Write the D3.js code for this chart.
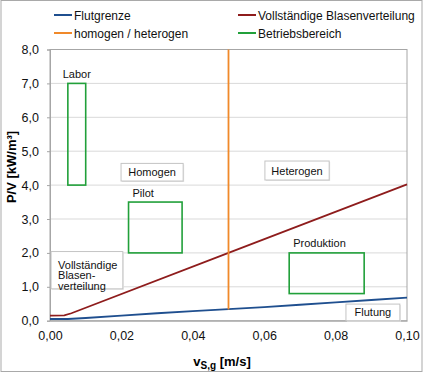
<!DOCTYPE html>
<html lang="de">
  <head>
    <meta charset="UTF-8" />
    <title>Betriebsbereiche</title>
    <script src="https://d3js.org/d3.v7.min.js"></script>
    <style>
      body {
        margin: 0;
        padding: 0;
        background: #fff;
        font-family: "Liberation Sans", Arial, sans-serif;
      }
      svg {
        display: block;
      }
    </style>
  </head>
  <body>
    <svg width="425" height="373"></svg>
    <script>
      // Daten
      const yTicks = [0, 1, 2, 3, 4, 5, 6, 7, 8];
      const xTicks = [0, 0.02, 0.04, 0.06, 0.08, 0.1];

      const flutgrenze = [
        [0, 0.05], [0.005, 0.05], [0.01, 0.08], [0.02, 0.15], [0.03, 0.22],
        [0.04, 0.28], [0.05, 0.34], [0.06, 0.4], [0.07, 0.47], [0.08, 0.54],
        [0.09, 0.61], [0.1, 0.68]
      ];
      const blasenverteilung = [
        [0, 0.15], [0.004, 0.16], [0.006, 0.22], [0.05, 2.0], [0.1, 4.02]
      ];
      const homogenHeterogen = [[0.05, 0.33], [0.05, 8]];

      // Betriebsbereiche: [x0, x1, y0, y1]
      const bereichNamen = ["Labor", "Pilot", "Produktion"];
      const bereiche = [
        [0.005, 0.01, 4.0, 7.0],
        [0.022, 0.037, 2.0, 3.5],
        [0.067, 0.088, 0.8, 2.0]
      ];

      const legendNames = ["Flutgrenze", "Vollständige Blasenverteilung", "homogen / heterogen", "Betriebsbereich"];
      const legendColors = ["#1f4f8f", "#8e1c1c", "#f0892a", "#21a03a"];

      // Textfelder: Zeilen, [x0, x1, y0, y1] in Datenwerten
      const boxTexts = [["Homogen"], ["Heterogen"], ["Vollständige", "Blasen-", "verteilung"], ["Flutung"]];
      const boxRanges = [
        [0.0199, 0.0373, 4.12, 4.64],
        [0.0602, 0.0782, 4.15, 4.71],
        [0.0003, 0.0204, 0.94, 2.04],
        [0.0829, 0.098, 0, 0.49]
      ];

      const svg = d3.select("svg");
      const x = d3.scaleLinear().domain([0, 0.1]).range([50, 407]);
      const y = d3.scaleLinear().domain([0, 8]).range([320.7, 49.5]);
      const fmt = (d, n) => d.toFixed(n).replace(".", ",");

      // äußerer Rahmen
      svg.append("rect")
        .attr("x", 1).attr("y", 0.5).attr("width", 421).attr("height", 371)
        .attr("fill", "none").attr("stroke", "#a9a9a9");

      // Gitterlinien
      svg.append("g")
        .selectAll("line")
        .data(yTicks.slice(1))
        .join("line")
        .attr("x1", x(0)).attr("x2", x(0.1))
        .attr("y1", (d) => y(d)).attr("y2", (d) => y(d))
        .attr("stroke", "#d9d9d9");

      // Plotrahmen
      svg.append("rect")
        .attr("x", x(0)).attr("y", y(8))
        .attr("width", x(0.1) - x(0)).attr("height", y(0) - y(8))
        .attr("fill", "none").attr("stroke", "#a6a6a6");

      // Achsen
      const yAxis = svg.append("g")
        .attr("transform", `translate(${x(0)},0)`)
        .call(d3.axisLeft(y).tickValues(yTicks).tickSize(3).tickPadding(8).tickFormat((d) => fmt(d, 1)));
      const xAxis = svg.append("g")
        .attr("transform", `translate(0,${y(0)})`)
        .call(d3.axisBottom(x).tickValues(xTicks).tickSize(0).tickPadding(10).tickFormat((d) => fmt(d, 2)));
      [yAxis, xAxis].forEach((a) => {
        a.select(".domain").attr("stroke", "#a6a6a6");
        a.selectAll(".tick line").attr("stroke", "#a6a6a6");
        a.selectAll("text")
          .attr("font-family", "Liberation Sans, Arial, sans-serif")
          .attr("font-size", 12.5).attr("fill", "#111");
      });

      // Achsentitel
      svg.append("text")
        .attr("transform", "translate(16,167) rotate(-90)")
        .attr("text-anchor", "middle")
        .attr("font-size", 13).attr("font-weight", "bold")
        .text("P/V [kW/m³]");
      const xt = svg.append("text")
        .attr("x", 222).attr("y", 366)
        .attr("text-anchor", "middle")
        .attr("font-size", 13).attr("font-weight", "bold");
      xt.append("tspan").text("v");
      xt.append("tspan").attr("font-size", 10).attr("dy", 3).text("S,g");
      xt.append("tspan").attr("dy", -3).text(" [m/s]");

      // Linien
      const line = d3.line().x((d) => x(d[0])).y((d) => y(d[1]));
      [flutgrenze, blasenverteilung, homogenHeterogen].forEach((s, i) => {
        svg.append("path")
          .datum(s)
          .attr("d", line)
          .attr("fill", "none")
          .attr("stroke", legendColors[i])
          .attr("stroke-width", 1.8);
      });

      // Betriebsbereiche
      svg.append("g")
        .selectAll("rect")
        .data(bereiche)
        .join("rect")
        .attr("x", (d) => x(d[0]))
        .attr("y", (d) => y(d[3]))
        .attr("width", (d) => x(d[1]) - x(d[0]))
        .attr("height", (d) => y(d[2]) - y(d[3]))
        .attr("fill", "none")
        .attr("stroke", legendColors[3])
        .attr("stroke-width", 1.6);

      svg.append("g")
        .selectAll("text")
        .data(bereiche)
        .join("text")
        .attr("x", (d, i) => (i === 0 ? (x(d[0]) + x(d[1])) / 2 : x(d[0]) + 4))
        .attr("y", (d) => y(d[3]) - 5.5)
        .attr("text-anchor", (d, i) => (i === 0 ? "middle" : "start"))
        .attr("font-size", 11).attr("fill", "#111")
        .text((d, i) => bereichNamen[i]);

      // Textfelder
      boxRanges.forEach((b, i) => {
        const g = svg.append("g");
        g.append("rect")
          .attr("x", x(b[0]) + 1).attr("y", y(b[3]) + 1)
          .attr("width", x(b[1]) - x(b[0])).attr("height", y(b[2]) - y(b[3]))
          .attr("fill", "#e6e6e6");
        g.append("rect")
          .attr("x", x(b[0])).attr("y", y(b[3]))
          .attr("width", x(b[1]) - x(b[0])).attr("height", y(b[2]) - y(b[3]))
          .attr("fill", "#fff").attr("stroke", "#c4c4c4");
        const lines = boxTexts[i];
        const multi = lines.length > 1;
        g.selectAll("text")
          .data(lines)
          .join("text")
          .attr("x", multi ? x(b[0]) + 7 : (x(b[0]) + x(b[1])) / 2)
          .attr("y", (d, j) => (multi ? y(b[3]) + 17 + j * 10.5 : (y(b[2]) + y(b[3])) / 2 + 4))
          .attr("text-anchor", multi ? "start" : "middle")
          .attr("font-size", 11).attr("fill", "#111")
          .text((d) => d);
      });

      // Legende
      const legend = svg.append("g")
        .selectAll("g")
        .data(legendNames)
        .join("g")
        .attr("transform", (d, i) => `translate(${i % 2 === 0 ? 54 : 238},${i < 2 ? 15 : 33})`);
      legend.append("line")
        .attr("x1", 0).attr("x2", 18)
        .attr("stroke", (d, i) => legendColors[i])
        .attr("stroke-width", 2);
      legend.append("text")
        .attr("x", 20).attr("y", 4.5)
        .attr("font-size", 12).attr("fill", "#111")
        .text((d) => d);
    </script>
  </body>
</html>
